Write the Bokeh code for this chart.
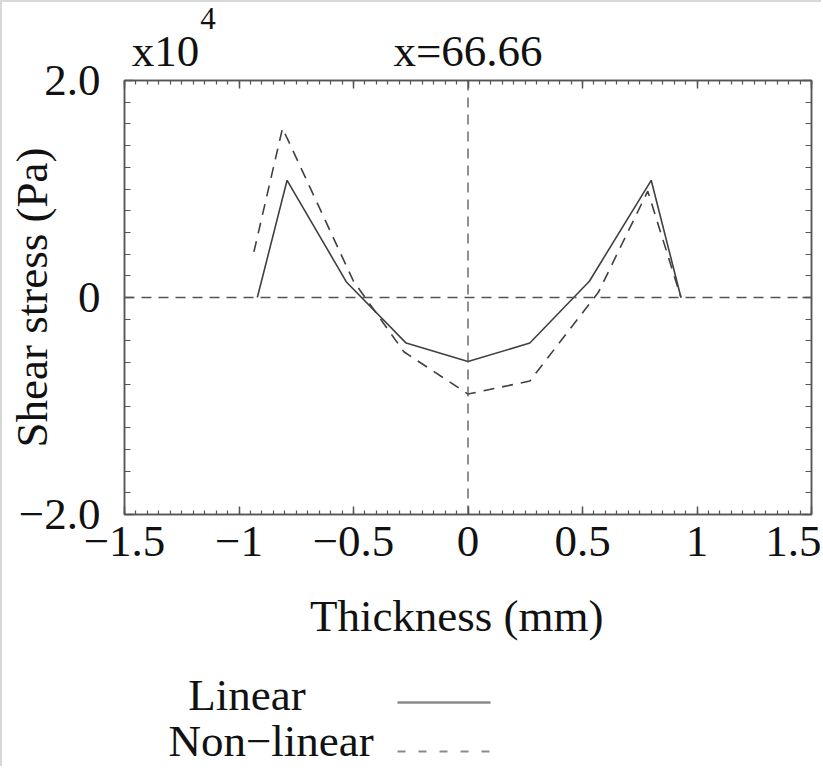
import numpy as np
from bokeh.plotting import figure
from bokeh.models import Range1d, LinearAxis, FixedTicker, Span
from bokeh.embed import file_html
from bokeh.resources import INLINE

# Data (shear stress in units of 1e4 Pa, thickness in mm)
thickness_linear = [-0.92, -0.79, -0.53, -0.27, 0.0, 0.27, 0.53, 0.80, 0.93]
stress_linear = [0.0, 1.08, 0.14, -0.42, -0.59, -0.42, 0.15, 1.08, 0.0]
thickness_nonlinear = [-0.935, -0.81, -0.50, -0.28, 0.0, 0.27, 0.57, 0.785, 0.93]
stress_nonlinear = [0.42, 1.56, 0.15, -0.50, -0.89, -0.77, 0.05, 0.98, 0.0]

x_ticks = [-1.5, -1.0, -0.5, 0.0, 0.5, 1.0, 1.5]
x_tick_labels = ["\u22121.5", "\u22121", "\u22120.5", "0", "0.5", "1", "1.5"]
y_ticks = [-2.0, 0.0, 2.0]
y_tick_labels = ["\u22122.0", "0", "2.0"]
title_text = "x=66.66"
scale_text = "x10"
scale_exp = "4"
x_label = "Thickness (mm)"
y_label = "Shear stress (Pa)"
legend_labels = ["Linear", "Non\u2212linear"]

FONT = "Liberation Serif"
FS = "45px"
AX = "#555555"
LINE = "#404040"
TXT = "#111111"
SAMPLE = "#8a8a8a"

p = figure(width=821, height=766, x_range=Range1d(-1.5, 1.5), y_range=Range1d(-2.0, 2.0),
           output_backend="svg", toolbar_location=None,
           x_axis_type=None, y_axis_type=None,
           min_border_left=122, min_border_right=12, min_border_top=78, min_border_bottom=254)
p.title.visible = False
p.xgrid.visible = False
p.ygrid.visible = False
p.background_fill_color = "white"
p.border_fill_color = "white"
p.outline_line_color = AX
p.outline_line_width = 1.5
p.styles = {"border-left": "2px solid #d8d8d8", "border-top": "2px solid #d8d8d8"}

x_minor = [round(v, 3) for v in np.arange(-1.5, 1.5001, 0.05)]
y_minor = [round(v, 3) for v in np.arange(-2.0, 2.0001, 0.2)]


def make_axis(ticks, minor, labels, major_in, minor_in, standoff, show):
    ax = LinearAxis(ticker=FixedTicker(ticks=ticks, minor_ticks=minor),
                    major_tick_in=major_in, major_tick_out=0,
                    minor_tick_in=minor_in, minor_tick_out=0,
                    axis_line_color=AX, axis_line_width=1.5,
                    major_tick_line_color=AX, major_tick_line_width=1.5,
                    minor_tick_line_color=AX, minor_tick_line_width=1.2,
                    major_label_standoff=standoff)
    if show:
        ax.major_label_overrides = {t: l for t, l in zip(ticks, labels)}
        ax.major_label_text_font = FONT
        ax.major_label_text_font_size = FS
        ax.major_label_text_color = TXT
    else:
        ax.major_label_text_font_size = "1px"
        ax.major_label_text_color = None
    return ax


def text_axis(pos, labels, size, standoff, color=TXT):
    return LinearAxis(ticker=FixedTicker(ticks=pos, minor_ticks=[]),
                      major_label_overrides={t: l for t, l in zip(pos, labels)},
                      axis_line_color=None, major_tick_line_color=None, minor_tick_line_color=None,
                      major_tick_in=0, major_tick_out=0, minor_tick_in=0, minor_tick_out=0,
                      major_label_text_font=FONT, major_label_text_font_size=size,
                      major_label_text_color=color, major_label_standoff=standoff)


def spacer_axis(gap):
    # empty space made by an invisible outward tick of length `gap`
    ax = LinearAxis(ticker=FixedTicker(ticks=[0.0], minor_ticks=[]),
                    axis_line_color=None, major_tick_line_color=None, minor_tick_line_color=None,
                    major_tick_in=0, major_tick_out=gap, minor_tick_in=0, minor_tick_out=0,
                    major_label_text_font_size="1px", major_label_text_color=None,
                    major_label_standoff=0)
    return ax


def sample_axis(bounds, width, dash):
    ax = LinearAxis(ticker=FixedTicker(ticks=[], minor_ticks=[]), bounds=bounds,
                    axis_line_color=SAMPLE, axis_line_width=width, axis_line_dash=dash,
                    major_tick_line_color=None, minor_tick_line_color=None,
                    major_tick_in=0, major_tick_out=0, minor_tick_in=0, minor_tick_out=0,
                    major_label_text_font_size="1px", major_label_text_color=None,
                    major_label_standoff=0)
    return ax


# bottom: main x axis with label
xb = make_axis(x_ticks, x_minor, x_tick_labels, 8, 4, 12, True)
xb.axis_label = x_label + "\u00a0\u00a0"
xb.axis_label_text_font = FONT
xb.axis_label_text_font_size = FS
xb.axis_label_text_font_style = "normal"
xb.axis_label_text_color = TXT
xb.axis_label_standoff = 32
p.add_layout(xb, "below")

# legend rows below the x axis (text on the left, line sample on the right)
sample_bounds = (-0.308, 0.098)
legend_text_center = [-0.965, -0.860]
p.add_layout(spacer_axis(59), "below")
p.add_layout(sample_axis(sample_bounds, 2.5, "solid"), "below")
p.add_layout(text_axis([legend_text_center[0]], [legend_labels[0]], FS, -33), "below")
p.add_layout(spacer_axis(29), "below")
p.add_layout(sample_axis(sample_bounds, 2.0, "8 13"), "below")
p.add_layout(text_axis([legend_text_center[1]], [legend_labels[1]], FS, -36), "below")

# left: y axis with label
yl = make_axis(y_ticks, y_minor, y_tick_labels, 9, 6, 24, True)
yl.axis_label = y_label
yl.axis_label_text_font = FONT
yl.axis_label_text_font_size = FS
yl.axis_label_text_font_style = "normal"
yl.axis_label_text_color = TXT
yl.axis_label_standoff = -41
p.add_layout(yl, "left")

p.add_layout(make_axis(y_ticks, y_minor, y_tick_labels, 9, 6, 0, False), "right")
p.add_layout(make_axis(x_ticks, x_minor, x_tick_labels, 8, 4, 0, False), "above")
# header texts: "x10" with superscript exponent, and the title
p.add_layout(text_axis([-1.321, 0.0], [scale_text, title_text], FS, 5), "above")
p.add_layout(text_axis([-1.135], [scale_exp], "31px", -6), "above")

p.add_layout(Span(location=0, dimension="height", line_color=AX, line_width=1.3, line_dash="10 7"))
p.add_layout(Span(location=0, dimension="width", line_color=AX, line_width=1.3, line_dash="10 7"))

p.line(thickness_linear, stress_linear, line_color=LINE, line_width=1.6)
p.line(thickness_nonlinear, stress_nonlinear, line_color=LINE, line_width=1.6, line_dash="11 8")

open("out.html", "w").write(file_html(p, INLINE))
